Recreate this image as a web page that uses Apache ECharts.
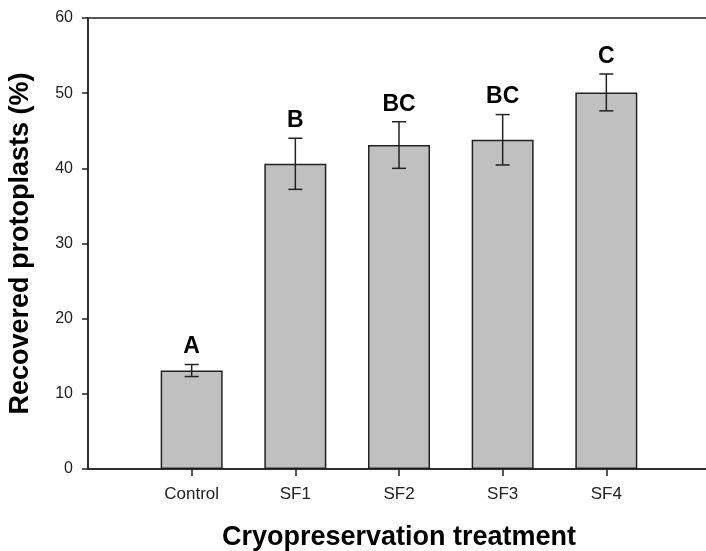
<!DOCTYPE html>
<html>
<head>
<meta charset="utf-8">
<script src="https://cdn.jsdelivr.net/npm/echarts@6/dist/echarts.min.js"></script>
<style>
  html, body { margin: 0; padding: 0; background: #fff; }
  #chart { width: 706px; height: 551px; }
</style>
</head>
<body>
<div id="chart"></div>
<script>
// data
const categories = ["", "Control", "SF1", "SF2", "SF3", "SF4", ""];
const means = [null, 13.1, 40.6, 43.1, 43.8, 50.1, null];
const errors = [null, 0.8, 3.4, 3.1, 3.35, 2.45, null];
const letters = ["", "A", "B", "BC", "BC", "C", ""];
const yTicks = [0, 10, 20, 30, 40, 50, 60];

let chart = echarts.init(document.getElementById("chart"));

let errData = [];
for (let i = 0; i < categories.length; i++) {
  if (means[i] == null) continue;
  errData.push([i, means[i] - errors[i], means[i] + errors[i], letters[i]]);
}

const option = {
  animation: false,
  grid: {
    // plot runs a little past the right edge of the picture
    left: 88, top: 18, width: 622, bottom: 82,
    outerBoundsMode: "none",
    containLabel: false,
    show: true, borderColor: "#222", borderWidth: 1.5
  },
  xAxis: {
    type: "category",
    data: categories,
    boundaryGap: false,
    name: "Cryopreservation treatment",
    nameLocation: "middle",
    nameGap: 55,
    nameTextStyle: { fontFamily: "Liberation Sans", fontSize: 27, fontWeight: "bold", color: "#000" },
    axisLine: { lineStyle: { color: "#222", width: 1.5 } },
    axisTick: {
      length: 7, lineStyle: { color: "#222", width: 1.5 },
      interval: function (idx, val) { return val !== ""; }
    },
    axisLabel: { margin: 17, fontFamily: "Liberation Sans", fontSize: 17, color: "#222" },
    splitLine: { show: false }
  },
  yAxis: {
    type: "value",
    min: yTicks[0],
    max: yTicks[yTicks.length - 1],
    interval: 10,
    name: "Recovered protoplasts (%)",
    nameLocation: "middle",
    nameGap: 54,
    nameTextStyle: { fontFamily: "Liberation Sans", fontSize: 27, fontWeight: "bold", color: "#000" },
    axisLine: { show: true, lineStyle: { color: "#222", width: 1.5 } },
    axisTick: { show: true, length: 6, lineStyle: { color: "#222", width: 1.5 } },
    axisLabel: { margin: 15, fontFamily: "Liberation Sans", fontSize: 16, color: "#222" },
    splitLine: { show: false }
  },
  series: [
    {
      type: "bar",
      data: means,
      barWidth: 62,
      itemStyle: { color: "#c0c0c0", borderColor: "#222", borderWidth: 1.5 }
    },
    {
      type: "custom",
      data: errData,
      z: 10,
      renderItem: function (params, api) {
        let x = api.coord([api.value(0), api.value(1)])[0];
        let lo = api.coord([api.value(0), api.value(1)])[1];
        let hi = api.coord([api.value(0), api.value(2)])[1];
        let half = 7;
        let style = { stroke: "#222", lineWidth: 1.5 };
        return {
          type: "group",
          children: [
            { type: "line", shape: { x1: x, y1: hi, x2: x, y2: lo }, style: style },
            { type: "line", shape: { x1: x - half, y1: hi, x2: x + half, y2: hi }, style: style },
            { type: "line", shape: { x1: x - half, y1: lo, x2: x + half, y2: lo }, style: style },
            {
              type: "text",
              style: {
                x: x, y: hi - 6,
                text: errData[params.dataIndex][3],
                fill: "#000",
                font: "bold 23px 'Liberation Sans'",
                textAlign: "center",
                textVerticalAlign: "bottom"
              }
            }
          ]
        };
      }
    }
  ]
};

chart.setOption(option);

window.addEventListener("resize", function () {
  chart.resize();
});
</script>
</body>
</html>
